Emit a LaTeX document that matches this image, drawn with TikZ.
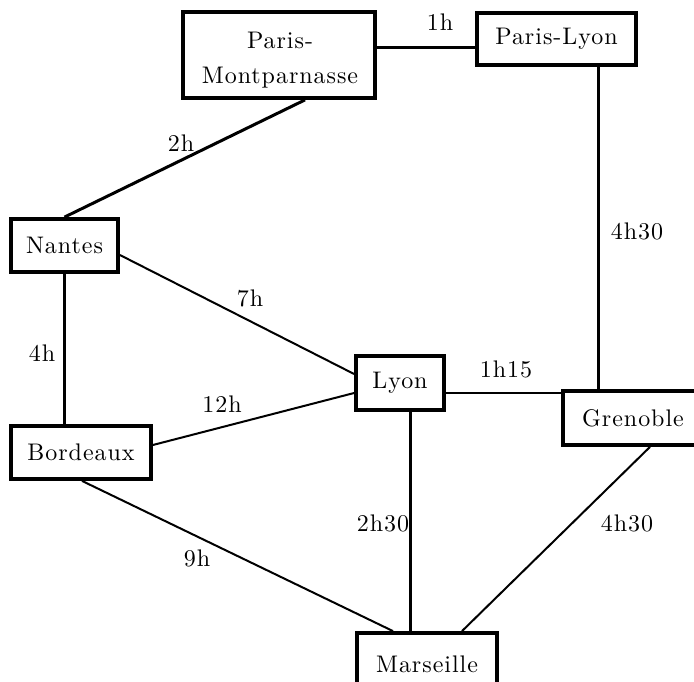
\documentclass[tikz,border=0pt]{standalone}
\usepackage{fontspec}
% the 10pt design size of Latin Modern, scaled up
\setmainfont{lmroman10-regular}[Extension=.otf,LetterSpace=4]
\begin{document}
\begin{tikzpicture}[x=1pt,y=-1pt,
  city/.style={draw,line width=3.8pt,inner sep=0pt,font=\fontsize{24}{35}\selectfont,align=center},
  label text/.style={inner sep=0pt,font=\fontsize{24}{35}\selectfont,align=center},
  route/.style={line width=3pt},
  thinroute/.style={line width=2pt},
  dur/.style={font=\fontsize{24}{28}\selectfont,inner sep=0pt}]
\useasboundingbox (0,0) rectangle (694,682);
% stations
\node[city,minimum width=192pt,minimum height=86pt] (pm) at (279,55) {};
\node[label text] (pmtext) at (280,60) {Paris-\\Montparnasse};
\node[city,minimum width=159pt,minimum height=52pt] (pl) at (556.5,39) {Paris-Lyon};
\node[city,minimum width=107pt,minimum height=53pt] (na) at (64.5,245.5) {Nantes};
\node[city,minimum width=140pt,minimum height=53pt] (bo) at (81,452.5) {Bordeaux};
\node[city,minimum width=88pt,minimum height=54pt] (ly) at (400,383) {Lyon};
\node[city,minimum width=140pt,minimum height=54pt] (gr) at (633,418) {Grenoble};
\node[city,minimum width=140pt,minimum height=62pt] (ma) at (427,664) {Marseille};
% anchor points on the boxes
\coordinate (pmB) at (pm.south -| 305,0);
\coordinate (naT) at (na.north);
\coordinate (naR) at (na.east |- 0,255);
\coordinate (naB) at (na.south);
\coordinate (boT) at (bo.north -| na.south);
\coordinate (boR) at (bo.east |- 0,445);
\coordinate (boB) at (bo.south -| 82,0);
\coordinate (lyL1) at (ly.west |- 0,374);
\coordinate (lyL2) at (ly.west |- 0,393);
\coordinate (lyR) at (ly.east |- 0,393);
\coordinate (lyB) at (ly.south -| 410,0);
\coordinate (grL) at (gr.west |- 0,393);
\coordinate (grT) at (gr.north -| 598,0);
\coordinate (grB) at (gr.south -| 650,0);
\coordinate (plB) at (pl.south -| 598,0);
\coordinate (maT1) at (ma.north -| 393,0);
\coordinate (maT2) at (ma.north -| 410,0);
\coordinate (maT3) at (ma.north -| 462,0);
% connections
\draw[route] (pm.east |- 0,48) -- (pl.west |- 0,48);
\draw[route] (pmB) -- (naT);
\draw[route] (naB) -- (boT);
\draw[thinroute] (naR) -- (lyL1);
\draw[thinroute] (boR) -- (lyL2);
\draw[thinroute] (lyR) -- (grL);
\draw[route] (plB) -- (grT);
\draw[route] (lyB) -- (maT2);
\draw[thinroute] (boB) -- (maT1);
\draw[thinroute] (grB) -- (maT3);
% durations
\node[dur] (d1) at (440,22) {1h};
\node[dur] (d2) at (181,143) {2h};
\node[dur] (d3) at (42,353) {4h};
\node[dur] (d4) at (250,298) {7h};
\node[dur] (d5) at (222,404) {12h};
\node[dur] (d6) at (506,369) {1h15};
\node[dur] (d7) at (637,231) {4h30};
\node[dur] (d8) at (383,523) {2h30};
\node[dur] (d9) at (197,558) {9h};
\node[dur] (d10) at (627,523) {4h30};
\end{tikzpicture}
\end{document}
